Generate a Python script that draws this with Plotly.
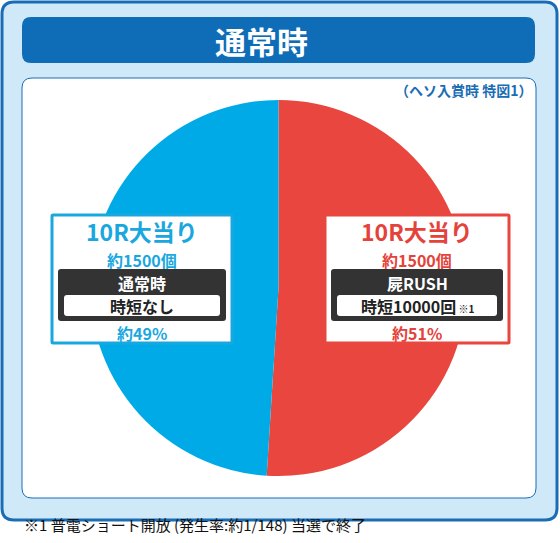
import plotly.graph_objects as go

W, H = 560, 543

# ---- data ----
slice_labels = ["屍RUSH", "通常時"]
slice_values = [51, 49]
slice_colors = ["#e8463e", "#00aae6"]

title_text = "通常時"
note_text = "（ヘソ入賞時 特図1）"
round_label = "10R大当り"
payout_label = "約1500個"
mode_names = ["屍RUSH", "通常時"]
jitan_texts = ["時短10000回<span style='font-size:10px'> ※1</span>", "時短なし"]
pct_texts = ["約51%", "約49%"]
footnote = "※1 普電ショート開放 (発生率:約1/148) 当選で終了"

FONT = "Noto Sans CJK JP"
BLUE_DARK = "#1a6db5"
BLUE_TXT = "#1aa7e0"
RED_TXT = "#e4433b"


def px(x):
  return x / W


def py(y):
  return 1 - y / H


def rrect(x0, y0, x1, y1, r):
  # rounded rectangle path, pixel coords -> paper coords
  p = [
    f"M {px(x0 + r)} {py(y0)}",
    f"L {px(x1 - r)} {py(y0)}",
    f"Q {px(x1)} {py(y0)} {px(x1)} {py(y0 + r)}",
    f"L {px(x1)} {py(y1 - r)}",
    f"Q {px(x1)} {py(y1)} {px(x1 - r)} {py(y1)}",
    f"L {px(x0 + r)} {py(y1)}",
    f"Q {px(x0)} {py(y1)} {px(x0)} {py(y1 - r)}",
    f"L {px(x0)} {py(y0 + r)}",
    f"Q {px(x0)} {py(y0)} {px(x0 + r)} {py(y0)}",
    "Z",
  ]
  return " ".join(p)


shapes = []


def add_box(x0, y0, x1, y1, r, fill, line_color=None, line_width=0, layer="above"):
  shapes.append(dict(
    type="path", path=rrect(x0, y0, x1, y1, r), xref="paper", yref="paper",
    fillcolor=fill, layer=layer,
    line=dict(color=line_color or fill, width=line_width),
  ))


# background frames
add_box(2, 2, 557, 520, 12, "#cfe9f8", BLUE_DARK, 3, layer="below")
add_box(22, 17, 535, 63, 9, "#0f6cb6", layer="below")
add_box(22, 78, 536, 498, 10, "#ffffff", BLUE_DARK, 1, layer="below")

fig = go.Figure()

cx, cy, rad = 278.5, 288, 188
fig.add_trace(go.Pie(
  labels=slice_labels,
  values=slice_values,
  marker=dict(colors=slice_colors, line=dict(width=0)),
  sort=False,
  direction="clockwise",
  rotation=0,
  textinfo="none",
  hoverinfo="label+percent",
  showlegend=False,
  domain=dict(x=[px(cx - rad), px(cx + rad)], y=[py(cy + rad), py(cy - rad)]),
))

annotations = []


def add_text(x, y, text, size, color, xanchor="center", bold=True):
  annotations.append(dict(
    x=px(x), y=py(y), xref="paper", yref="paper", text=f"<b>{text}</b>" if bold else text,
    showarrow=False, xanchor=xanchor, yanchor="middle",
    font=dict(family=FONT, size=size, color=color),
  ))


add_text(261, 40, title_text, 31, "white")
add_text(534, 90, note_text, 14, BLUE_DARK, xanchor="right")

# label boxes: right (red) then left (blue)
boxes = [
  (325, 509, "#e8463e", RED_TXT),
  (52, 232, "#1aa7e0", BLUE_TXT),
]
for i, (x0, x1, edge, tcol) in enumerate(boxes):
  mid = (x0 + x1) / 2
  add_box(x0, 215, x1, 343, 1, "#ffffff", edge, 3)
  add_box(x0 + 6, 269, x1 - 6, 321, 3, "#333333")
  add_box(x0 + 12, 295, x1 - 12, 316, 3, "#ffffff")
  add_text(mid, 231, round_label, 23, tcol)
  add_text(mid, 259.5, payout_label, 16, tcol)
  add_text(mid, 283, mode_names[i], 16, "white")
  add_text(mid, 306.5, jitan_texts[i], 16, "#222222")
  add_text(mid, 333, pct_texts[i], 16, tcol)

add_text(22, 524, footnote, 15, "#111111", xanchor="left", bold=False)

fig.update_layout(
  width=W, height=H,
  margin=dict(l=0, r=0, t=0, b=0),
  paper_bgcolor="white",
  plot_bgcolor="white",
  shapes=shapes,
  annotations=annotations,
  showlegend=False,
)

# page has an 8px body margin by default; drop it so the figure fills the window
fig.write_html("out.html", config={"displayModeBar": False},
               post_script="document.body.style.margin='0';")
